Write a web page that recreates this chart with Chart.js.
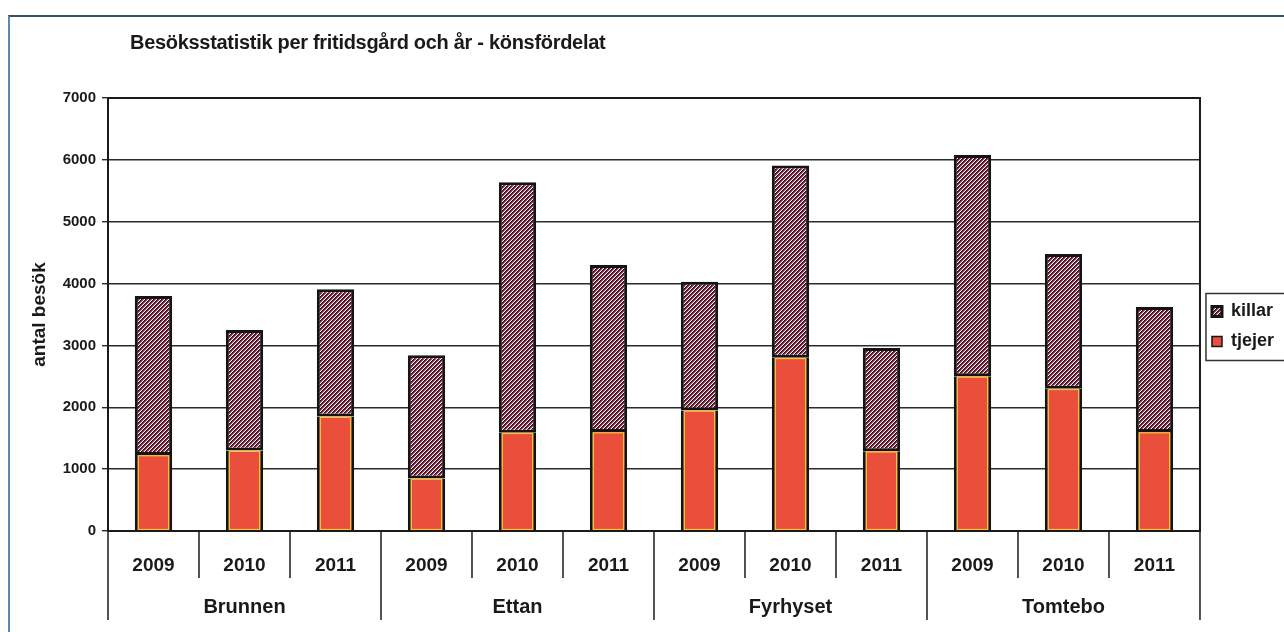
<!DOCTYPE html>
<html>
<head>
<meta charset="utf-8">
<script src="https://cdn.jsdelivr.net/npm/chart.js@4.4.1/dist/chart.umd.min.js"></script>
<style>
  html, body { margin: 0; padding: 0; background: #fff; }
  #wrap { position: relative; width: 1284px; height: 632px; overflow: hidden; }
  #chart { position: absolute; left: 0; top: 0; }
  #frame {
    position: absolute; left: 8px; top: 15px; width: 1290px; height: 640px;
    border-top: 2px solid #35506a; border-left: 2px solid #5b89b0;
  }
  #title {
    position: absolute; left: 130px; top: 31px;
    font: bold 20px "Liberation Sans", Arial, sans-serif; color: #1a1a1a;
    letter-spacing: -0.3px;
  }
</style>
</head>
<body>
<div id="wrap">
  <canvas id="chart" width="1284" height="632"></canvas>
  <div id="frame"></div>
  <div id="title">Besöksstatistik per fritidsgård och år - könsfördelat</div>
</div>
<script>
const groups = ["Brunnen", "Ettan", "Fyrhyset", "Tomtebo"];
const years = ["2009", "2010", "2011"];
// per gård: 2009, 2010, 2011
const tjejer = [1230, 1300, 1850, 850, 1590, 1600, 1950, 2800, 1290, 2500, 2300, 1600];
const killar = [2570, 1950, 2060, 1990, 4050, 2700, 2080, 3110, 1670, 3580, 2180, 2020];
const yTicks = [0, 1000, 2000, 3000, 4000, 5000, 6000, 7000];

const labels = groups.flatMap(() => years);
const FONT = "'Liberation Sans', Arial, sans-serif";

// hatch pattern for killar, drawn pixel by pixel so it stays crisp
function makeHatch() {
  const c = document.createElement("canvas");
  c.width = 4; c.height = 4;
  const g = c.getContext("2d");
  const shades = ["#2c0612", "#7c1c38", "#a8586c", "#ffffff"];
  for (let px = 0; px < 4; px++) {
    for (let py = 0; py < 4; py++) {
      g.fillStyle = shades[(px + py) % 4];
      g.fillRect(px, py, 1, 1);
    }
  }
  return g.createPattern(c, "repeat");
}
const hatch = makeHatch();

// yellow inner edge on the tjejer part, like the scanned original
const innerEdge = {
  id: "innerEdge",
  afterDatasetsDraw(chart) {
    const { ctx } = chart;
    const meta = chart.getDatasetMeta(0);
    ctx.save();
    ctx.strokeStyle = "#f2c63c";
    ctx.lineWidth = 1.2;
    meta.data.forEach(bar => {
      const p = bar.getProps(["x", "y", "base", "width"], true);
      ctx.strokeRect(p.x - p.width / 2 + 3.5, p.y + 0.8, p.width - 7, p.base - p.y - 1.6);
    });
    ctx.restore();
  }
};

// frame around plot, separators under the x axis, box round legend
const decorations = {
  id: "decorations",
  afterDraw(chart) {
    const { ctx, chartArea: a } = chart;
    const x = chart.scales.x;
    ctx.save();
    ctx.strokeStyle = "#1a1a1a";
    ctx.lineWidth = 2;
    ctx.strokeRect(a.left, a.top, a.right - a.left, a.bottom - a.top);

    ctx.lineWidth = 1.5;
    for (let i = 0; i <= labels.length; i++) {
      let px;
      if (i === 0) px = a.left;
      else if (i === labels.length) px = a.right;
      else px = (x.getPixelForValue(i - 1) + x.getPixelForValue(i)) / 2;
      const long = i % years.length === 0;
      ctx.beginPath();
      ctx.moveTo(px, a.bottom);
      ctx.lineTo(px, long ? a.bottom + 89 : a.bottom + 47);
      ctx.stroke();
    }

    const boxes = chart.legend.legendHitBoxes;
    if (boxes && boxes.length) {
      const l = Math.min(...boxes.map(b => b.left)) - 6;
      const t = Math.min(...boxes.map(b => b.top)) - 9;
      const b = Math.max(...boxes.map(b => b.top + b.height)) + 10;
      ctx.lineWidth = 1.5;
      ctx.strokeStyle = "#333";
      ctx.strokeRect(l, t, 200, b - t);
    }
    ctx.restore();
  }
};

new Chart(document.getElementById("chart"), {
  type: "bar",
  data: {
    labels: labels,
    datasets: [
      {
        label: "tjejer",
        data: tjejer,
        backgroundColor: "#e94f3a",
        borderColor: "#141414",
        borderWidth: { left: 3, right: 3, top: 0, bottom: 0 },
        borderSkipped: false
      },
      {
        label: "killar",
        data: killar,
        backgroundColor: hatch,
        borderColor: "#141414",
        borderWidth: 3,
        borderSkipped: false
      }
    ]
  },
  options: {
    responsive: false,
    devicePixelRatio: 1,
    animation: false,
    layout: { padding: { left: 22, top: 98, right: 0, bottom: 0 } },
    datasets: { bar: { barPercentage: 0.41, categoryPercentage: 1 } },
    plugins: {
      title: { display: false },
      tooltip: { enabled: false },
      legend: {
        position: "right",
        fullSize: false,
        reverse: true,
        title: { display: true, text: " ", font: { size: 10 }, padding: { top: 6, bottom: 6 } },
        labels: {
          boxWidth: 10,
          boxHeight: 10,
          padding: 12,
          color: "#1a1a1a",
          font: { family: FONT, size: 18, weight: "bold" }
        }
      }
    },
    scales: {
      x: {
        stacked: true,
        offset: true,
        grid: { display: false, drawTicks: false },
        border: { display: true, color: "#1a1a1a", width: 2 },
        ticks: {
          padding: 23,
          color: "#1a1a1a",
          font: { family: FONT, size: 19, weight: "bold" }
        },
        afterFit(scale) { scale.height = 62; }
      },
      x2: {
        type: "category",
        labels: groups,
        position: "bottom",
        offset: true,
        grid: { display: false, drawTicks: false },
        border: { display: false },
        ticks: {
          padding: 2,
          color: "#1a1a1a",
          font: { family: FONT, size: 20, weight: "bold" }
        },
        afterFit(scale) { scale.height = 39; }
      },
      y: {
        stacked: true,
        min: 0,
        max: 7000,
        afterBuildTicks(scale) { scale.ticks = yTicks.map(v => ({ value: v })); },
        grid: { color: "#2b2b2b", lineWidth: 1.4, tickLength: 6 },
        border: { display: true, color: "#1a1a1a", width: 2 },
        ticks: {
          padding: 6,
          color: "#1a1a1a",
          font: { family: FONT, size: 15, weight: "bold" },
          callback: v => String(v)
        },
        title: {
          display: true,
          text: "antal besök",
          color: "#1a1a1a",
          padding: { top: 6, bottom: 0 },
          font: { family: FONT, size: 19, weight: "bold" }
        },
        afterFit(scale) { scale.width = 86; }
      }
    }
  },
  plugins: [innerEdge, decorations]
});
</script>
</body>
</html>
